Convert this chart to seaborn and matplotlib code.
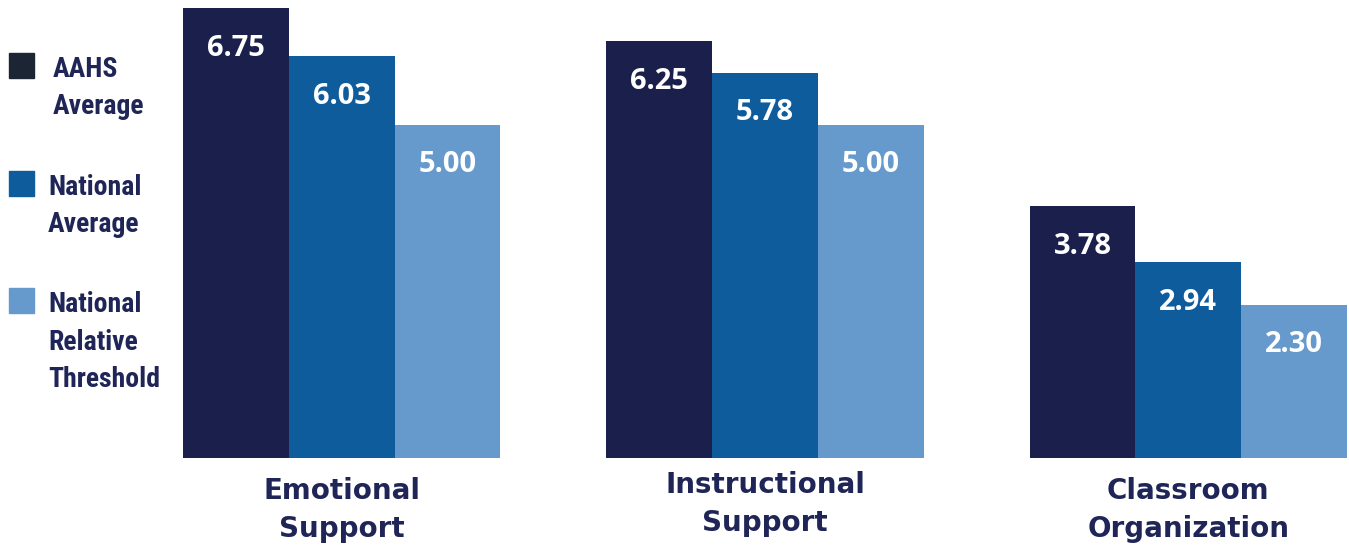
import matplotlib
matplotlib.use('Agg')
import matplotlib.pyplot as plt
import matplotlib.transforms as mtransforms
from matplotlib.patches import Rectangle
import seaborn as sns
import pandas as pd

# chart data
categories = ['Emotional\nSupport', 'Instructional\nSupport', 'Classroom\nOrganization']
series = ['AAHS Average', 'National Average', 'National Relative Threshold']
legend_labels = ['AAHS\nAverage', 'National\nAverage', 'National\nRelative\nThreshold']
aahs_avg = [6.75, 6.25, 3.78]
national_avg = [6.03, 5.78, 2.94]
national_threshold = [5.00, 5.00, 2.30]

colors = ['#1b1f4b', '#0e5c9c', '#6699cc']
text_navy = '#1f2556'

df = pd.DataFrame({
    'category': categories * 3,
    'series': [s for s in series for _ in categories],
    'value': aahs_avg + national_avg + national_threshold,
})

sns.set_theme(style='white')
plt.rcParams['font.family'] = ['DejaVu Sans']

W, H = 1349, 548
fig = plt.figure(figsize=(W / 100, H / 100), dpi=100)
ax = fig.add_axes([183 / W, (H - 458) / H, 1164 / W, 450 / H])

sns.barplot(data=df, x='category', y='value', hue='series', order=categories,
            hue_order=series, palette=colors, width=0.75, gap=0, linewidth=0,
            saturation=1, legend=False, ax=ax)

ax.set_xlim(-0.375, 2.375)
ax.set_ylim(0, max(aahs_avg))
ax.set_xlabel('')
ax.set_ylabel('')
ax.set_yticks([])
sns.despine(ax=ax, left=True, bottom=True)
ax.tick_params(axis='x', length=0, pad=14)
for lab in ax.get_xticklabels():
    lab.set_fontsize(20)
    lab.set_fontweight('bold')
    lab.set_color(text_navy)
    lab.set_linespacing(1.42)
# the middle label sits a bit higher in the original
mid = ax.get_xticklabels()[1]
mid.set_transform(mid.get_transform() + mtransforms.ScaledTranslation(0, 6 / 100, fig.dpi_scale_trans))

# value labels inside the top of each bar
for cont in ax.containers:
    for bar in cont:
        h = bar.get_height()
        ax.annotate(f'{h:.2f}', (bar.get_x() + bar.get_width() / 2, h),
                    xytext=(0, -40), textcoords='offset pixels',
                    ha='center', va='center', color='white',
                    fontsize=21, fontweight='bold', family=['Open Sans', 'DejaVu Sans'])

# legend on the left
legend_font = ['Roboto Condensed', 'Liberation Sans Narrow', 'Roboto', 'DejaVu Sans']
sq_tops = [53, 171, 288]
text_x = [53, 48, 48]
for i, lab in enumerate(legend_labels):
    y0 = sq_tops[i]
    fig.patches.append(Rectangle((9 / W, (H - y0 - 25) / H), 25 / W, 25 / H,
                                 transform=fig.transFigure, color=colors[i] if i else '#1b2533'))
    fig.text(text_x[i] / W, (H - y0 - 3) / H, lab, ha='left', va='top',
             fontsize=20, fontweight='bold', color=text_navy,
             family=legend_font, linespacing=1.5)

fig.savefig('out.png', dpi=100)
